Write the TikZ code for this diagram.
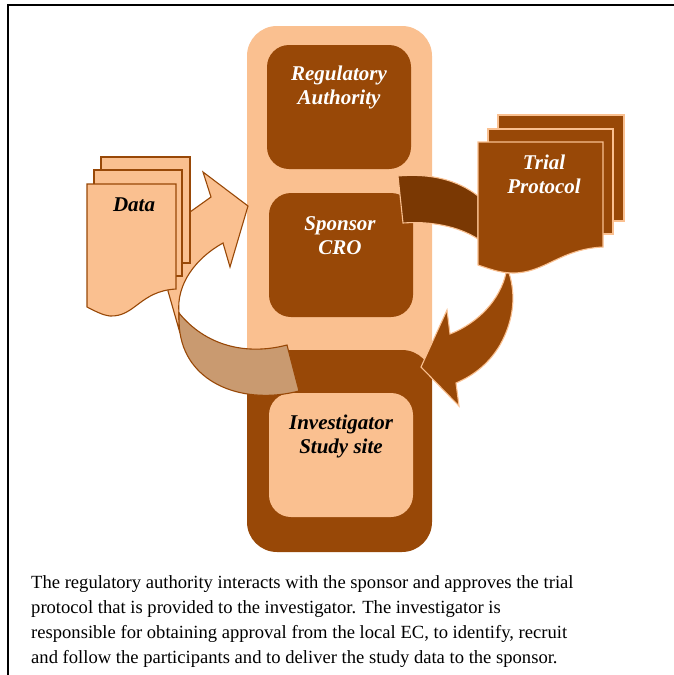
\documentclass[tikz,border=0pt]{standalone}
\usepackage{fontspec}
\setmainfont{Liberation Serif}
\definecolor{peach}{HTML}{FAC090}
\definecolor{rust}{HTML}{984807}
\definecolor{rustdark}{HTML}{7A3803}
\definecolor{tan}{HTML}{C99A70}
\tikzset{
  x=1pt,y=-1pt,
  panel/.style={rounded corners=30pt,fill=#1,draw=none},
  inner box/.style={rounded corners=22pt,fill=#1,draw=none},
  lightshape/.style={fill=peach,draw=rust,line width=1.1pt,line join=miter},
  darkshape/.style={fill=rust,draw=peach,line width=1.1pt,line join=miter},
  lab/.style={font=\fontsize{21}{24}\selectfont\bfseries\itshape,align=center,inner sep=0pt,text=#1},
  caption/.style={font=\fontsize{18.6}{25}\selectfont,anchor=north west,align=left,inner sep=0pt}
}
\begin{document}
\begin{tikzpicture}
\useasboundingbox (0,0) rectangle (674,675);
\fill[white] (0,0) rectangle (674,675);
% frame
\draw[black,line width=1.6pt] (8,675) -- (8,5) -- (674,5);
% panels
\fill[panel=peach] (247,26) rectangle (432,400);
\fill[panel=rust] (247,350) rectangle (432,552);
\fill[inner box=rust] (267,45) rectangle (411,169);
\fill[inner box=rust] (269,193) rectangle (413,317);
\fill[inner box=peach] (269,393) rectangle (413,517);
% light arrow
\draw[lightshape] (168,291) .. controls (172,255) and (182,228) .. (190,217) -- (190,212) -- (211,197) -- (203,172) -- (248,206) -- (230,267) -- (223,243)
  .. controls (196,258) and (176,284) .. (179,313) .. controls (179,320) and (179,327) .. (180,333) -- cycle;
% data pages
\draw[lightshape] (101,157) -- (190,157) -- (190,263) -- (101,263) -- cycle;
\draw[lightshape] (94,170) -- (182,170) -- (182,276) -- (94,276) -- cycle;
\draw[lightshape] (87,184) -- (176,184) -- (176,289) .. controls (140,291) and (135,317) .. (110,316) .. controls (102,315) and (95,311) .. (87,307) -- cycle;
% tan arrow
\draw[fill=tan,draw=rust,line width=1.1pt] (179,313) .. controls (205,345) and (245,356) .. (287,345) -- (299,391) .. controls (245,405) and (188,385) .. (180,333) .. controls (179,327) and (179,320) .. (179,313) -- cycle;
% dark curved arrow
\draw[fill=rustdark,draw=peach,line width=1.1pt] (398,176) .. controls (430,173) and (458,180) .. (478,196) -- (478,239) .. controls (458,226) and (430,221) .. (403,223) -- cycle;
% trial pages
\draw[darkshape] (498,115) -- (624,115) -- (624,221) -- (498,221) -- cycle;
\draw[darkshape] (488,129) -- (613,129) -- (613,234) -- (488,234) -- cycle;
\draw[darkshape] (478,142) -- (603,142) -- (603,247) .. controls (560,249) and (545,273) .. (513,273) .. controls (500,273) and (490,269) .. (478,265) -- cycle;
% down arrow
\draw[darkshape] (506,273) -- (509,273) .. controls (516,295) and (514,320) .. (500,345) .. controls (490,362) and (475,375) .. (456,383) -- (459,406) -- (421,367) -- (447,310) -- (450,334) .. controls (478,323) and (500,300) .. (506,273) -- cycle;
% labels
\node[lab=white] (reg) at (339,87) {Regulatory\\Authority};
\node[lab=white] (spo) at (340,236) {Sponsor\\CRO};
\node[lab=black] (inv) at (341,436) {Investigator\\Study site};
\node[lab=black] (dat) at (134,205) {Data};
\node[lab=white] (tri) at (544,174) {Trial\\Protocol};
\node[caption] (cap) at (31,575) {The regulatory authority interacts with the sponsor and approves the trial\\protocol that is provided to the investigator. The investigator is\\responsible for obtaining approval from the local EC, to identify, recruit\\and follow the participants and to deliver the study data to the sponsor.};
\end{tikzpicture}
\end{document}
